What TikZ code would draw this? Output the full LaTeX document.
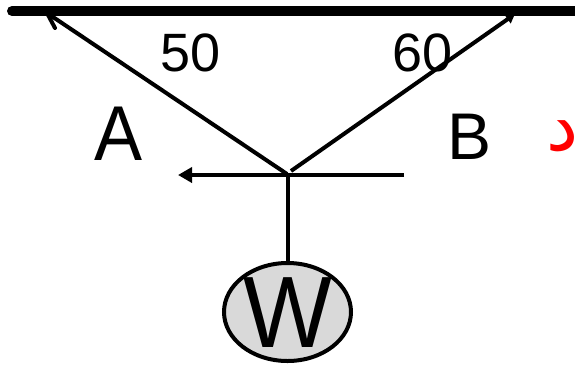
\documentclass[tikz,border=0pt]{standalone}
\usepackage{fontspec}
\usepackage{graphicx}
\setmainfont{Liberation Sans}
\newfontfamily\arabicfont[Script=Arabic]{DejaVu Sans}
\TeXXeTstate=1
\usetikzlibrary{arrows.meta,shapes.geometric}
\definecolor{wfill}{RGB}{217,217,217}
\tikzset{
  wire/.style={draw=black,line width=4pt},
  lab/.style={inner sep=0pt,text=black},
}
\newcommand{\fsz}[1]{\fontsize{#1}{#1}\selectfont}
\begin{document}
\begin{tikzpicture}[x=1pt,y=-1pt]
\clip (0,0) rectangle (575,365);
\fill[white] (0,0) rectangle (575,365);
\coordinate (barL) at (12,11);
\coordinate (barR) at (585,11);
\coordinate (hubL) at (287,174);
\coordinate (hubR) at (291,171);
\coordinate (hub) at (287.5,175);
\coordinate (anchorL) at (47,13);
\coordinate (anchorR) at (515,14);
\coordinate (forceR) at (404,175);
\coordinate (forceL) at (178,175);
\coordinate (barbL) at (55,28);
\draw[line width=10pt,line cap=round] (barL) -- (barR);
\draw[wire] (hubL) -- (anchorL);
\draw[wire,line cap=round] (anchorL) -- (barbL);
\draw[wire,-{Triangle[length=9pt,width=10pt]}] (hubR) -- (anchorR);
\draw[wire,-{Triangle[length=14pt,width=15pt]}] (forceR) -- (forceL);
\node[ellipse,draw=black,line width=4pt,fill=wfill,minimum width=127pt,minimum height=98pt,inner sep=0pt] (w) at (287.5,312) {};
\draw[wire] (hub) -- (w.north);
\node[lab,font=\fsz{94}] (wt) at (287.5,313) {\scalebox{1}[1.08]{W}};
\node[lab,font=\fsz{72}] (a) at (119,134) {\scalebox{1}[1.08]{A}};
\node[lab,font=\fsz{66}] (b) at (470,137) {B};
\node[lab,font=\fsz{54}] (n50) at (191,53) {50};
\node[lab,font=\fsz{54}] (n60) at (422.5,53) {60};
\node[lab,text=red,font=\arabicfont\fsz{72},anchor=base west] (d) at (546,150) {\beginR د\endR};
\end{tikzpicture}
\end{document}
